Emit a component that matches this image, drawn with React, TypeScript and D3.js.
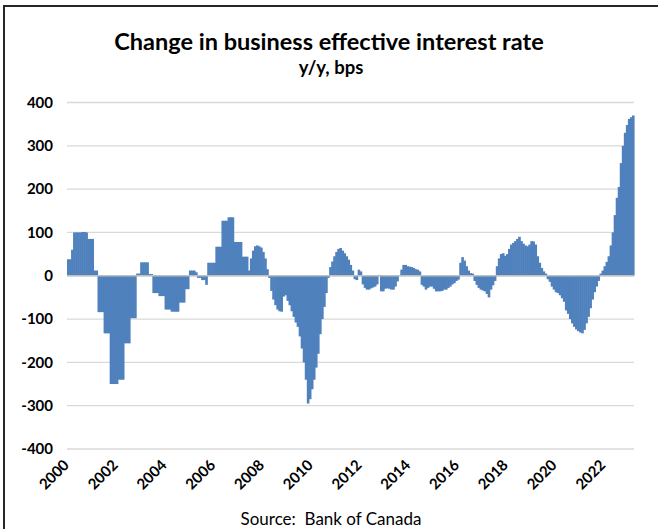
import React from "react";
import * as d3 from "d3";

const TITLE = "Change in business effective interest rate";
const SUBTITLE = "y/y, bps";
const SOURCE = "Source:\u00a0 Bank of Canada";
const START_YEAR = 2000;

const yTicks = [400, 300, 200, 100, 0, -100, -200, -300, -400];
const xTickYears = [2000, 2002, 2004, 2006, 2008, 2010, 2012, 2014, 2016, 2018, 2020, 2022];

// monthly y/y change, bps
const v2000 = [38, 38, 60, 100, 100, 100, 100, 101, 101, 100, 85, 85];
const v2001 = [85, 12, 12, -84, -84, -84, -133, -133, -133, -250, -250, -250];
const v2002 = [-250, -240, -240, -240, -156, -156, -156, -98, -98, -98, 5, 5];
const v2003 = [31, 31, 31, 31, 4, 4, -40, -40, -40, -47, -47, -47];
const v2004 = [-78, -78, -78, -83, -83, -83, -83, -62, -62, -62, -31, -31];
const v2005 = [12, 12, 12, 8, -5, -5, -10, -10, -21, 30, 30, 30];
const v2006 = [30, 67, 67, 67, 127, 127, 127, 135, 135, 135, 78, 78];
const v2007 = [78, 78, 44, 44, 44, 12, 40, 58, 68, 70, 68, 65];
const v2008 = [55, 40, 15, -5, -35, -55, -68, -78, -82, -83, -48, -45];
const v2009 = [-58, -68, -82, -95, -108, -118, -140, -168, -200, -240, -295, -285];
const v2010 = [-262, -240, -212, -180, -135, -100, -72, -40, -5, 20, 33, 45];
const v2011 = [55, 62, 64, 58, 52, 45, 37, 25, 12, -8, -10, 14];
const v2012 = [10, -20, -28, -32, -32, -29, -27, -25, -20, 2, -36, -36];
const v2013 = [-30, -29, -30, -32, -32, -25, -13, 0, 14, 25, 25, 22];
const v2014 = [21, 20, 18, 15, 14, 10, -21, -25, -32, -28, -25, -25];
const v2015 = [-30, -36, -36, -36, -35, -32, -32, -28, -25, -20, -17, -12];
const v2016 = [-9, 30, 43, 35, 22, 12, 6, 5, -12, -21, -28, -32];
const v2017 = [-34, -36, -42, -50, -32, -22, -12, 22, 40, 50, 52, 46];
const v2018 = [50, 62, 72, 76, 80, 85, 90, 80, 74, 70, 68, 72];
const v2019 = [80, 79, 72, 45, 30, 18, 10, 5, -8, -14, -25, -32];
const v2020 = [-38, -40, -45, -52, -60, -80, -88, -100, -110, -118, -124, -128];
const v2021 = [-131, -133, -125, -110, -95, -75, -55, -38, -25, -12, 5, 12];
const v2022 = [22, 32, 45, 70, 100, 140, 180, 205, 260, 300, 330, 348];
const v2023 = [362, 366, 370];

const series = [
  ...v2000, ...v2001, ...v2002, ...v2003, ...v2004, ...v2005, ...v2006, ...v2007,
  ...v2008, ...v2009, ...v2010, ...v2011, ...v2012, ...v2013, ...v2014, ...v2015,
  ...v2016, ...v2017, ...v2018, ...v2019, ...v2020, ...v2021, ...v2022, ...v2023,
];

const W = 658;
const H = 529;
const FONT = "Lato, 'Open Sans', sans-serif";
const BAR = "#4f81bd";

export default function App() {
  const idx = d3.range(series.length);
  const x = d3.scaleBand<number>().domain(idx).range([67, 634]).paddingInner(0).paddingOuter(0);
  const y = d3.scaleLinear().domain([-400, 400]).range([449, 102.5]);
  const bw = x.bandwidth();
  const y0 = y(0);

  return (
    <svg width={W} height={H} style={{ position: "absolute", left: 0, top: 0, background: "#fff" }}>
      <rect x={0} y={0} width={W} height={H} fill="#fff" />
      <rect x={4} y={6} width={W + 20} height={H + 40} fill="none" stroke="#262626" strokeWidth={2} />
      <text x={329} y={50} textAnchor="middle" fontFamily={FONT} fontWeight={700} fontSize={23.5} fill="#000">
        {TITLE}
      </text>
      <text x={331} y={74} textAnchor="middle" fontFamily={FONT} fontWeight={700} fontSize={18.5} fill="#000">
        {SUBTITLE}
      </text>
      {yTicks.map((t) => (
        <g key={t}>
          <line x1={67} x2={634} y1={y(t)} y2={y(t)} stroke="#d9d9d9" strokeWidth={1.3} />
          <text x={53} y={y(t)} dy="0.35em" textAnchor="end" fontFamily={FONT} fontWeight={700} fontSize={15} fill="#000">
            {t}
          </text>
        </g>
      ))}
      {series.map((v, i) => (
        <rect
          key={i}
          x={x(i)!}
          width={bw + 0.6}
          y={Math.min(y(v), y0)}
          height={Math.abs(y(v) - y0)}
          fill={BAR}
        />
      ))}
      <line x1={67} x2={634} y1={y0} y2={y0} stroke="#bfbfbf" strokeWidth={1.3} />
      {xTickYears.map((yr) => {
        const cx = x((yr - START_YEAR) * 12)! + bw / 2;
        return (
          <text
            key={yr}
            transform={`translate(${cx + 2},${466}) rotate(-45)`}
            textAnchor="end"
            fontFamily={FONT}
            fontWeight={700}
            fontSize={15}
            fill="#000"
          >
            {yr}
          </text>
        );
      })}
      <text x={331} y={525} textAnchor="middle" fontFamily={FONT} fontSize={17} fill="#000">
        {SOURCE}
      </text>
    </svg>
  );
}
